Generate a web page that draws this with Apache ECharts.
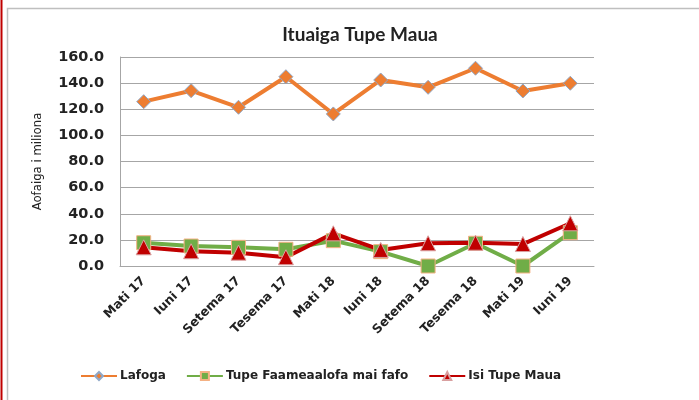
<!DOCTYPE html>
<html>
<head>
<meta charset="utf-8">
<script src="https://cdn.jsdelivr.net/npm/echarts@6/dist/echarts.min.js"></script>
</head>
<body style="margin:0;background:#fff">
<div id="main" style="width:699px;height:400px;"></div>
<script type="text/javascript">
var categories = ['Mati 17', 'Iuni 17', 'Setema 17', 'Tesema 17', 'Mati 18', 'Iuni 18', 'Setema 18', 'Tesema 18', 'Mati 19', 'Iuni 19'];
var lafoga = [125.8, 134.2, 121.5, 144.9, 116.4, 142.4, 136.8, 151.4, 134.0, 139.9];
var tupeFaameaalofa = [17.8, 15.3, 14.3, 12.8, 19.4, 11.0, 0.0, 17.4, 0.0, 25.5];
var isiTupe = [14.3, 11.3, 10.2, 6.7, 25.0, 12.3, 17.4, 17.8, 16.8, 32.7];

var myChart = echarts.init(document.getElementById('main'));
var font = 'Lato, "Open Sans", sans-serif';
var wide = '"DejaVu Sans", Verdana, sans-serif';

var option = {
    animation: false,
    backgroundColor: '#fff',
    title: {
        text: 'Ituaiga Tupe Maua',
        left: 355, top: 20, textAlign: 'center',
        textStyle: { fontFamily: font, fontSize: 19, fontWeight: 'bold', color: '#222' }
    },
    graphic: [
        { type: 'line', shape: { x1: 1.5, y1: 0, x2: 1.5, y2: 400 }, style: { stroke: '#c00000', lineWidth: 2 } },
        { type: 'polyline', shape: { points: [[7.5, 400], [7.5, 8.5], [699, 8.5]] }, style: { stroke: '#bfbfbf', lineWidth: 1.5, fill: null } }
    ],
    legend: {
        bottom: 13, left: 75, itemGap: 20, itemWidth: 36, itemHeight: 10,
        textStyle: { fontFamily: wide, fontSize: 12, fontWeight: 'bold', color: '#222', padding: [0, 0, 0, -2] },
        data: ['Lafoga', 'Tupe Faameaalofa mai fafo', 'Isi Tupe Maua']
    },
    grid: { left: 120, right: 105, top: 57, bottom: 134 },
    xAxis: {
        type: 'category', data: categories, boundaryGap: true,
        axisLine: { lineStyle: { color: '#a6a6a6' } },
        axisTick: { show: false },
        axisLabel: { rotate: 45, margin: 13, interval: 0, fontFamily: wide, fontSize: 12.5, fontWeight: 'bold', color: '#222' }
    },
    yAxis: {
        type: 'value', min: 0, max: 160, interval: 20,
        name: 'Aofaiga i miliona', nameLocation: 'middle', nameGap: 76, nameRotate: 90,
        nameTextStyle: { fontFamily: '"Liberation Sans Narrow", "DejaVu Sans Condensed", sans-serif', fontSize: 13, color: '#222' },
        axisLine: { show: true, lineStyle: { color: '#a6a6a6' } },
        splitLine: { lineStyle: { color: '#a6a6a6' } },
        axisLabel: { fontFamily: wide, fontSize: 14.5, fontWeight: 'bold', color: '#222', margin: 16,
            formatter: function (v) { return v.toFixed(1); } }
    },
    series: [
        {
            name: 'Lafoga', type: 'line', data: lafoga,
            symbol: 'diamond', symbolSize: 14,
            lineStyle: { color: '#ed7d31', width: 4 },
            itemStyle: { color: '#ed7d31', borderColor: '#8fa8c8', borderWidth: 1 }
        },
        {
            name: 'Tupe Faameaalofa mai fafo', type: 'line', data: tupeFaameaalofa,
            symbol: 'rect', symbolSize: 14,
            lineStyle: { color: '#70ad47', width: 4 },
            itemStyle: { color: '#70ad47', borderColor: '#f4b183', borderWidth: 1 }
        },
        {
            name: 'Isi Tupe Maua', type: 'line', data: isiTupe,
            symbol: 'triangle', symbolSize: 15,
            lineStyle: { color: '#c00000', width: 4 },
            itemStyle: { color: '#c00000', borderColor: '#d9a0a0', borderWidth: 1 }
        }
    ]
};
myChart.setOption(option);
</script>
</body>
</html>
